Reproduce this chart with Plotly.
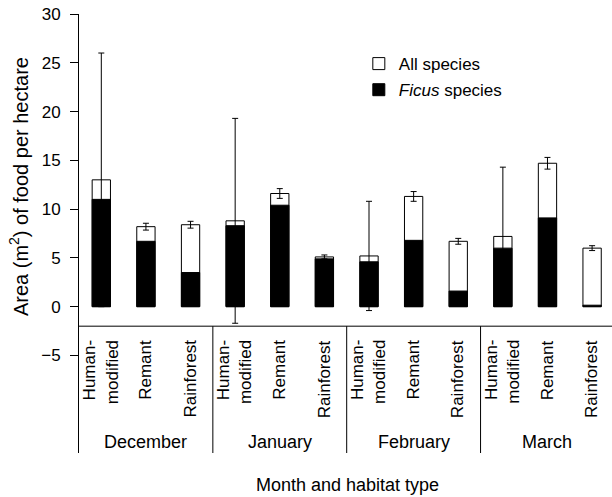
import plotly.graph_objects as go

months = ["December", "January", "February", "March"]
habitats = ["Human-<br>modified", "Remant", "Rainforest"]

all_species = [13.0, 8.2, 8.4, 8.8, 11.6, 5.1, 5.2, 11.3, 6.7, 7.2, 14.7, 6.0]
ficus_species = [11.0, 6.7, 3.5, 8.3, 10.4, 4.9, 4.6, 6.8, 1.6, 6.0, 9.1, 0.15]
all_err = [13.0, 0.35, 0.35, 10.5, 0.5, 0.2, 5.6, 0.5, 0.3, 7.1, 0.6, 0.25]

y_ticks = [-5, 0, 5, 10, 15, 20, 25, 30]

FONT = "Liberation Sans, Arial, Helvetica, sans-serif"
n = len(all_species)
xs = list(range(n))

fig = go.Figure()
fig.add_trace(go.Bar(
    x=xs, y=all_species, width=0.41, name="All species", legendgroup="a",
    marker=dict(color="white", line=dict(color="black", width=1)),
    error_y=dict(type="data", array=all_err, visible=True, color="black",
                 thickness=1, width=3),
))
fig.add_trace(go.Bar(
    x=xs, y=ficus_species, width=0.41, name="<i>Ficus</i> species", legendgroup="b",
    marker=dict(color="black", line=dict(color="black", width=1)),
))

# baseline for categories and group separators
fig.add_shape(type="line", xref="paper", yref="y", x0=0, x1=1, y0=-2, y1=-2,
              line=dict(color="black", width=1))
for sep in [2.5, 5.5, 8.5]:
    fig.add_shape(type="line", xref="x", yref="y", x0=sep, x1=sep, y0=-2, y1=-15,
                  line=dict(color="black", width=1))

# habitat labels (rotated) and month labels
for i in range(n):
    fig.add_annotation(x=i, y=-3.2, xref="x", yref="y", text=habitats[i % 3],
                       textangle=-90, showarrow=False, xanchor="center", yanchor="top",
                       align="right", font=dict(family=FONT, size=17, color="black"))
for m, month in enumerate(months):
    fig.add_annotation(x=m * 3 + 1, y=-13.9, xref="x", yref="y", text=month,
                       showarrow=False, xanchor="center", yanchor="middle",
                       font=dict(family=FONT, size=18, color="black"))

fig.add_annotation(x=0.504, y=-0.072, xref="paper", yref="paper",
                   text="Month and habitat type", showarrow=False,
                   xanchor="center", yanchor="middle",
                   font=dict(family=FONT, size=18, color="black"))
fig.add_annotation(x=-0.113, y=0.6075, xref="paper", yref="paper",
                   text="Area (m<sup>2</sup>) of food per hectare", showarrow=False,
                   textangle=-90, xanchor="center", yanchor="middle",
                   font=dict(family=FONT, size=20, color="black"))

fig.update_layout(
    width=612, height=497,
    margin=dict(l=79, r=0, t=14, b=44),
    paper_bgcolor="white", plot_bgcolor="white",
    barmode="overlay",
    showlegend=True,
    legend=dict(x=0.525, y=0.927, xanchor="left", yanchor="top",
                font=dict(family=FONT, size=17, color="black"),
                bgcolor="rgba(0,0,0,0)", tracegroupgap=1, traceorder="grouped"),
    font=dict(family=FONT, size=17, color="black"),
)
fig.update_xaxes(range=[-0.5, 11.446], showline=False, showticklabels=False,
                 ticks="", showgrid=False, zeroline=False)
fig.update_yaxes(range=[-15, 30], tickvals=y_ticks, ticks="outside", ticklen=8,
                 tickcolor="black", showline=True, linecolor="black", linewidth=1,
                 showgrid=False, zeroline=False, ticklabelstandoff=6,
                 tickfont=dict(family=FONT, size=17, color="black"))

fig.write_html("out.html", config={"displayModeBar": False},
               post_script="document.body.style.margin='0';document.body.style.overflow='hidden';")
